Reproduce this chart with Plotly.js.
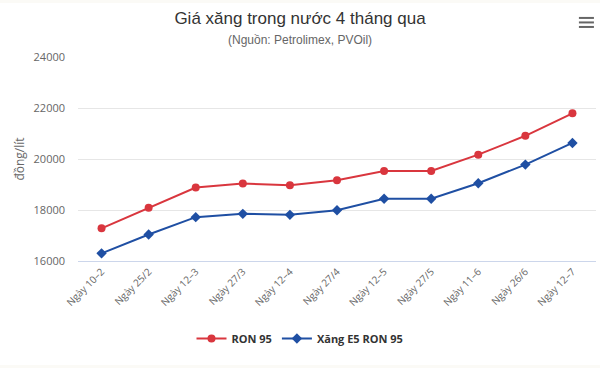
<!DOCTYPE html>
<html>
<head>
<meta charset="utf-8">
<script src="https://cdn.plot.ly/plotly-3.0.1.min.js"></script>
<style>
  html, body { margin: 0; padding: 0; background: #fbfaf6; width: 600px; height: 368px; overflow: hidden; }
  #chart { position: absolute; left: 0; top: 3px; width: 600px; height: 362px; background: #ffffff; }
</style>
</head>
<body>
<div id="chart"></div>
<script>
const categories = ["Ngày 10–2", "Ngày 25/2", "Ngày 12–3", "Ngày 27/3", "Ngày 12–4", "Ngày 27/4", "Ngày 12–5", "Ngày 27/5", "Ngày 11–6", "Ngày 26/6", "Ngày 12–7"];
const ron95 = [17280, 18090, 18880, 19040, 18970, 19170, 19530, 19530, 20170, 20910, 21790];
const e5ron95 = [16300, 17040, 17720, 17850, 17810, 17990, 18440, 18440, 19050, 19780, 20630];
const yTicks = [16000, 18000, 20000, 22000, 24000];

const traces = [
  {
    type: 'scatter', mode: 'lines+markers', name: 'RON 95',
    x: categories, y: ron95,
    line: { color: '#d9363e', width: 2 },
    marker: { symbol: 'circle', size: 8, color: '#d9363e' },
    hoverinfo: 'skip'
  },
  {
    type: 'scatter', mode: 'lines+markers', name: 'Xăng E5 RON 95',
    x: categories, y: e5ron95,
    line: { color: '#1f4fa3', width: 2 },
    marker: { symbol: 'diamond', size: 8, color: '#1f4fa3' },
    hoverinfo: 'skip'
  }
];

const cx = (300 - 78) / 518;

const layout = {
  width: 600, height: 362,
  autosize: false,
  paper_bgcolor: '#ffffff', plot_bgcolor: '#ffffff',
  margin: { l: 78, r: 4, t: 54, b: 104, autoexpand: false },
  showlegend: true,
  title: {
    text: 'Giá xăng trong nước 4 tháng qua',
    font: { family: 'Liberation Sans, Arial, sans-serif', size: 17, color: '#333333' },
    x: 0.5, xref: 'container', xanchor: 'center',
    y: 0.958, yref: 'container', yanchor: 'middle'
  },
  xaxis: {
    type: 'category',
    range: [-0.5, 10.5],
    tickangle: -45,
    tickfont: { family: 'Open Sans, sans-serif', size: 10, color: '#666666' },
    showgrid: false,
    showline: true, linecolor: '#ccd6eb', linewidth: 1,
    ticks: '', zeroline: false, fixedrange: true
  },
  yaxis: {
    range: [16000, 24000],
    tickvals: yTicks,
    ticktext: yTicks.map(String),
    tickfont: { family: 'Open Sans, sans-serif', size: 11, color: '#666666' },
    showgrid: true, gridcolor: '#e6e6e6', gridwidth: 1,
    zeroline: false, showline: false, ticks: '',
    ticklabelstandoff: 12,
    title: {
      text: 'đồng/lít',
      font: { family: 'Open Sans, sans-serif', size: 12, color: '#666666' },
      standoff: 6
    },
    fixedrange: true
  },
  legend: {
    orientation: 'h',
    x: cx, xanchor: 'center',
    y: -0.38, yanchor: 'middle',
    itemwidth: 30,
    font: { family: 'Open Sans, sans-serif', size: 11, color: '#333333', weight: 'bold' }
  },
  annotations: [
    {
      text: '(Nguồn: Petrolimex, PVOil)',
      xref: 'paper', x: cx, xanchor: 'center',
      yref: 'paper', y: 1.0835, yanchor: 'middle',
      showarrow: false,
      font: { family: 'Liberation Sans, Arial, sans-serif', size: 12, color: '#666666' }
    }
  ],
  shapes: [
    { type: 'line', xref: 'paper', yref: 'paper', x0: 0.967, x1: 0.996, y0: 1.1915, y1: 1.1915, line: { color: '#666666', width: 2 } },
    { type: 'line', xref: 'paper', yref: 'paper', x0: 0.967, x1: 0.996, y0: 1.1694, y1: 1.1694, line: { color: '#666666', width: 2 } },
    { type: 'line', xref: 'paper', yref: 'paper', x0: 0.967, x1: 0.996, y0: 1.1473, y1: 1.1473, line: { color: '#666666', width: 2 } }
  ]
};

Plotly.newPlot('chart', traces, layout, { displayModeBar: false, staticPlot: true });
</script>
</body>
</html>
